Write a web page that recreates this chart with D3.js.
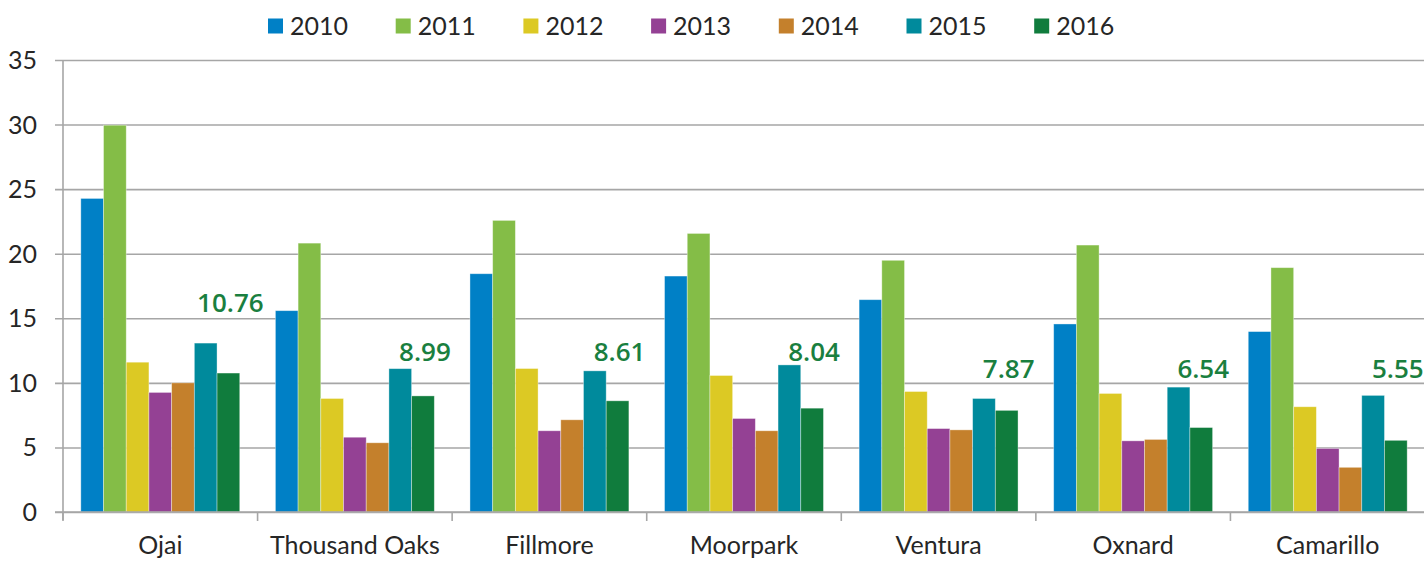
<!DOCTYPE html>
<html>
<head>
<meta charset="utf-8">
<script src="https://cdn.jsdelivr.net/npm/d3@7"></script>
<style>
  html, body { margin: 0; padding: 0; background: #fff; }
  svg { display: block; }
  text { font-family: Lato, "Open Sans", sans-serif; fill: #262626; }
</style>
</head>
<body>
<svg id="chart" width="1424" height="561"></svg>
<script>
// Cities along the x axis
const cities = ["Ojai", "Thousand Oaks", "Fillmore", "Moorpark", "Ventura", "Oxnard", "Camarillo"];
const years = ["2010", "2011", "2012", "2013", "2014", "2015", "2016"];

// One array per year, values in city order
const v2010 = [24.28, 15.59, 18.45, 18.27, 16.44, 14.56, 13.97];
const v2011 = [29.95, 20.82, 22.58, 21.57, 19.49, 20.67, 18.92];
const v2012 = [11.60, 8.79, 11.11, 10.57, 9.33, 9.18, 8.15];
const v2013 = [9.26, 5.79, 6.29, 7.24, 6.46, 5.51, 4.92];
const v2014 = [10.00, 5.36, 7.14, 6.29, 6.36, 5.62, 3.46];
const v2015 = [13.08, 11.10, 10.93, 11.39, 8.79, 9.67, 9.03];
const v2016 = [10.76, 8.99, 8.61, 8.04, 7.87, 6.54, 5.55];

const yTicks = [0, 5, 10, 15, 20, 25, 30, 35];

const seriesValues = [v2010, v2011, v2012, v2013, v2014, v2015, v2016];
const colors = ["#0080c6", "#84bd47", "#dcc924", "#944194", "#c4802c", "#008a9c", "#107c3d"];

// Value-label placement for the 2016 series (in axis units)
const labelLevel = [15.5, 11.7, 11.7, 11.7, 10.4, 10.4, 10.4];

const svg = d3.select("#chart");
const margin = { left: 63, right: 1425, top: 60, bottom: 512 };

const x0 = d3.scaleBand().domain(cities).range([margin.left, margin.right]).paddingInner(0).paddingOuter(0);
const x1 = d3.scaleBand().domain(years).range([0, x0.bandwidth()]).paddingInner(0).paddingOuter(0.785);
const y = d3.scaleLinear().domain([0, 35]).range([margin.bottom, margin.top]);

const gridColor = "#a6a6a6";

// Horizontal gridlines with short ticks left of the axis
const yAxis = d3.axisLeft(y).tickValues(yTicks).tickSize(0).tickPadding(18);
const gy = svg.append("g").attr("transform", `translate(${margin.left},0)`).call(yAxis);
gy.select(".domain").remove();
gy.selectAll(".tick text").style("font-size", "25px").attr("fill", "#262626").attr("dy", "0.34em").attr("x", -26);
gy.selectAll(".tick").append("line")
  .attr("x1", -8).attr("x2", 1424 - margin.left)
  .attr("stroke", gridColor).attr("stroke-width", 1.6);

// Vertical axis line
svg.append("line")
  .attr("x1", margin.left).attr("x2", margin.left)
  .attr("y1", y(35)).attr("y2", y(0) + 8)
  .attr("stroke", gridColor).attr("stroke-width", 1.6);

// Bars
const groups = svg.append("g").selectAll("g")
  .data(cities)
  .join("g")
  .attr("transform", d => `translate(${x0(d)},0)`);

groups.selectAll("rect")
  .data((c, ci) => years.map((yr, si) => ({ yr, si, v: seriesValues[si][ci] })))
  .join("rect")
  .attr("x", d => x1(d.yr))
  .attr("width", x1.bandwidth())
  .attr("y", d => y(d.v))
  .attr("height", d => y(0) - y(d.v))
  .attr("fill", d => colors[d.si])
  .attr("stroke", "rgba(255,255,255,0.45)")
  .attr("stroke-width", 0.8);

// Category axis: baseline and ticks at band boundaries
const xAxis = d3.axisBottom(x0).tickSize(0).tickPadding(24);
const gx = svg.append("g").attr("transform", `translate(0,${y(0)})`).call(xAxis);
gx.select(".domain").remove();
gx.selectAll(".tick text").style("font-size", "25px").attr("fill", "#262626");

svg.append("line")
  .attr("x1", margin.left - 8).attr("x2", 1424)
  .attr("y1", y(0)).attr("y2", y(0))
  .attr("stroke", gridColor).attr("stroke-width", 1.6);

const boundaries = cities.map(c => x0(c)).concat([x0(cities[cities.length - 1]) + x0.bandwidth()]);
svg.append("g").selectAll("line")
  .data(boundaries)
  .join("line")
  .attr("x1", d => d).attr("x2", d => d)
  .attr("y1", y(0)).attr("y2", y(0) + 9)
  .attr("stroke", gridColor).attr("stroke-width", 1.6);

// 2016 value labels
svg.append("g").selectAll("text")
  .data(cities.map((c, i) => ({ c, v: v2016[i], lv: labelLevel[i] })))
  .join("text")
  .attr("x", d => x0(d.c) + x1("2016") + x1.bandwidth() / 2 + 2)
  .attr("y", d => y(d.lv))
  .attr("text-anchor", "middle")
  .style("font-family", "'Open Sans', sans-serif")
  .style("font-weight", 600)
  .style("font-size", "26px")
  .style("fill", "#1a7f3f")
  .text(d => d.v.toFixed(2));

// Legend
const legend = svg.append("g").attr("transform", "translate(268,0)");
const item = legend.selectAll("g")
  .data(years)
  .join("g")
  .attr("transform", (d, i) => `translate(${i * 127.7},0)`);
item.append("rect")
  .attr("x", 0).attr("y", 18.5)
  .attr("width", 15).attr("height", 15)
  .attr("fill", (d, i) => colors[i]);
item.append("text")
  .attr("x", 22).attr("y", 34.5)
  .style("font-size", "25px")
  .text(d => d);
</script>
</body>
</html>
